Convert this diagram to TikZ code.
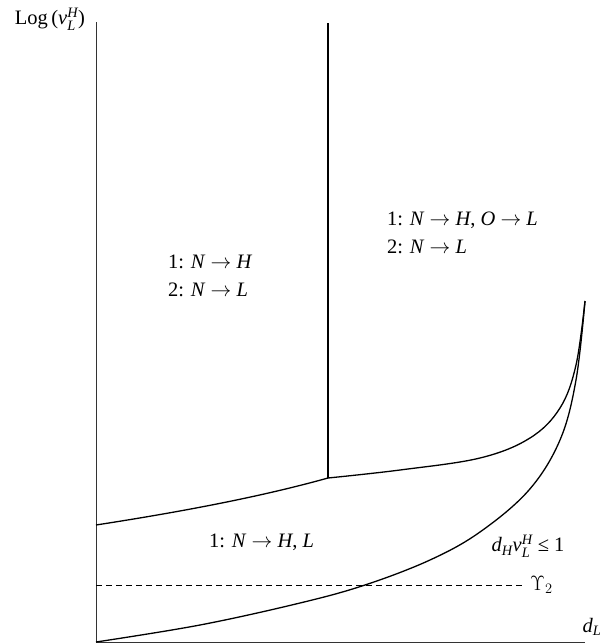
\documentclass[tikz,border=0pt]{standalone}
\usepackage{amsmath,amssymb}
\usepackage{fontspec}
\setmainfont{Liberation Serif}
\usepackage{tikz}
\usetikzlibrary{positioning,calc}

\newcommand{\vi}[1]{\textit{#1}}
\newcommand{\goes}{$\rightarrow$}

\begin{document}
\begin{tikzpicture}[
    x=1pt, y=-1pt,
    axis/.style   = {draw=black!80, line width=0.9pt},
    bound/.style  = {draw=black, line width=1.3pt},
    level/.style  = {draw=black, line width=1pt, dash pattern=on 6pt off 4pt},
    region/.style = {font=\fontsize{20.5}{28}\selectfont, align=left, inner sep=0pt},
    lbl/.style    = {font=\fontsize{20.5}{22}\selectfont, inner sep=0pt},
]
\useasboundingbox (0,0) rectangle (613,643);

% axes
\coordinate (O)    at (96,642);
\coordinate (ytop) at (96,22);
\coordinate (xend) at (585,642);
\draw[axis] (ytop) -- (O) -- (xend);
\node[lbl] (ylab) at (50,19) {Log\,($\vi{v}_{\vi{L}}^{\vi{H}}$)};
\node[lbl] (xlab) at (592,627) {$\vi{d}_{\vi{L}}$};

% boundaries
\coordinate (top)  at (328,23);
\coordinate (kink) at (328,478);
\coordinate (tip)  at (585,301);
\draw[bound] (top) -- (kink);
\draw[bound] (96,525) .. controls (180,512) and (260,497) .. (kink);
\draw[bound] plot[smooth, tension=0.6] coordinates
    {(kink) (400,470) (480,458) (530,438) (560,408) (576,365) (585,301)};
\draw[bound] plot[smooth, tension=0.6] coordinates
    {(O) (200,625) (300,603) (365,585) (430,560) (480,532) (529,490) (560,440) (576,380) (tip)};

% threshold
\coordinate (dashend) at (522,585);
\draw[level] (96,585) -- (dashend);
\node[lbl, right=8pt of dashend] (ups) {$\Upsilon_2$};

% regions
\node[region, anchor=west] (left)  at (168,276) {1: \vi{N} \goes{} \vi{H}\\2: \vi{N} \goes{} \vi{L}};
\node[region, anchor=west] (right) at (387,233) {1: \vi{N} \goes{} \vi{H}, \vi{O} \goes{} \vi{L}\\2: \vi{N} \goes{} \vi{L}};
\node[lbl, anchor=west]    (low)   at (209,542) {1: \vi{N} \goes{} \vi{H}, \vi{L}};
\node[lbl]                 (cond)  at (528,546) {$\vi{d}_{\vi{H}}\vi{v}_{\vi{L}}^{\vi{H}}$ ≤ 1};
\end{tikzpicture}
\end{document}
